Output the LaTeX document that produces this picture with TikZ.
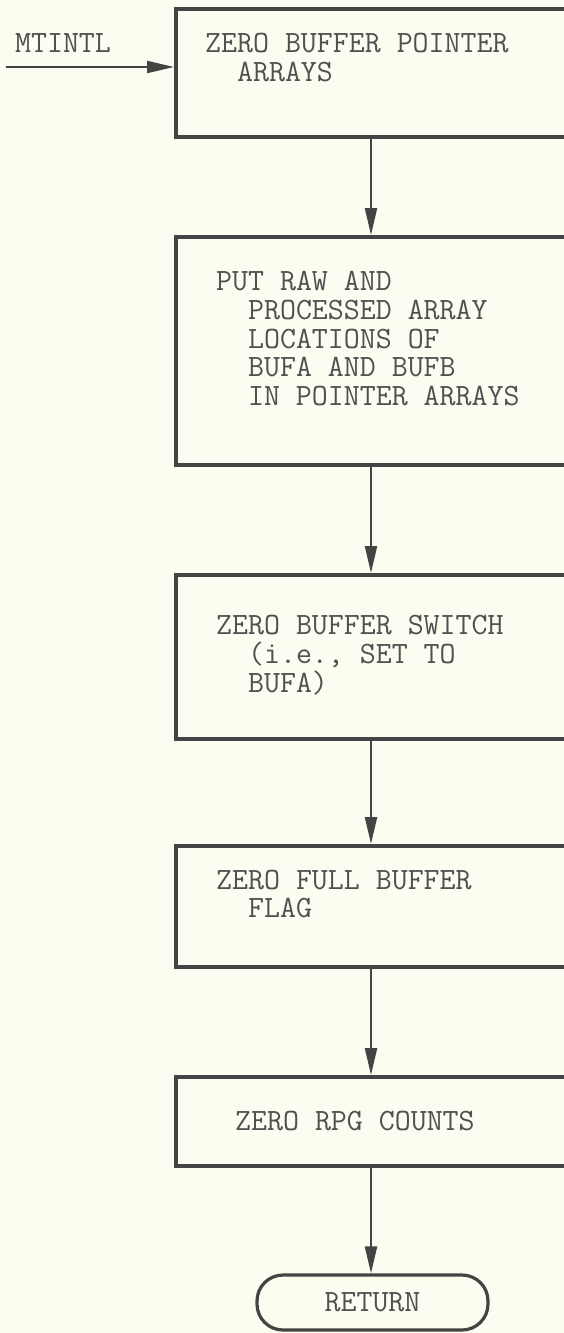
\documentclass[tikz,border=0pt]{standalone}
\usetikzlibrary{arrows.meta,calc}
\definecolor{fcline}{HTML}{444444}
\definecolor{fctext}{HTML}{505050}
\definecolor{fcpaper}{HTML}{FCFCF1}

\begin{document}
\begin{tikzpicture}[
  x=1pt, y=-1pt,
  font=\ttfamily\fontsize{31}{28.7}\selectfont,
  stepbox/.style={draw=fcline, line width=3.6pt, anchor=north west,
                  minimum width=420pt, minimum height=#1, inner sep=0pt},
  txt/.style={text=fctext, align=left, anchor=west, inner sep=0pt},
  endbox/.style={draw=fcline, line width=3.2pt, rounded corners=26pt,
                 minimum width=231pt, minimum height=55pt, text=fctext},
  flow/.style={-{Triangle[length=27pt, width=12pt]}, line width=2.2pt, draw=fcline},
]
  \useasboundingbox (0,0) rectangle (564,1333);
  \fill[fcpaper] (0,0) rectangle (564,1333);
  \clip (0,0) rectangle (564,1333);

  % ---- process boxes (they run off the right edge) ------------------------
  \node[stepbox=128pt] (zbp)  at (174,7)    {};
  \node[stepbox=228pt] (praw) at (174,235)  {};
  \node[stepbox=164pt] (zbs)  at (174,573)  {};
  \node[stepbox=121pt] (zfb)  at (174,844)  {};
  \node[stepbox=89pt]  (zrpg) at (174,1075) {};
  \node[endbox] (ret) at (372.5,1302.5) {RETURN};

  % ---- texts in the boxes -------------------------------------------------
  \node[txt] (zbp-t)  at (205,57.5) {ZERO BUFFER POINTER\\\ \ ARRAYS};
  \node[txt] (praw-t) at (216,338.5)
    {PUT RAW AND\\\ \ PROCESSED ARRAY\\\ \ LOCATIONS OF\\\ \ BUFA AND BUFB\\\ \ IN POINTER ARRAYS};
  \node[txt] (zbs-t)  at (216,655)  {ZERO BUFFER SWITCH\\\ \ (i.e., SET TO\\\ \ BUFA)};
  \node[txt] (zfb-t)  at (216,894)  {ZERO FULL BUFFER\\\ \ FLAG};
  \node[txt] (zrpg-t) at (235,1121) {ZERO RPG COUNTS};

  % ---- entry -------------------------------------------------------------
  \node[txt, anchor=center] (mtintl) at (63,43) {MTINTL};
  \coordinate (entry) at (6,67);
  \draw[flow] (entry) -- (entry -| zbp.west);

  % ---- flow down the column ----------------------------------------------
  \coordinate (ax) at (371,0);
  \draw[flow] (zbp.south -| ax)  -- (praw.north -| ax);
  \draw[flow] (praw.south -| ax) -- (zbs.north -| ax);
  \draw[flow] (zbs.south -| ax)  -- (zfb.north -| ax);
  \draw[flow] (zfb.south -| ax)  -- (zrpg.north -| ax);
  \draw[flow] (zrpg.south -| ax) -- (ret.north -| ax);
\end{tikzpicture}
\end{document}
